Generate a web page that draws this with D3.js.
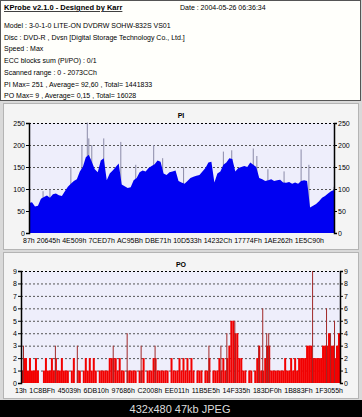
<!DOCTYPE html>
<html>
<head>
<meta charset="utf-8">
<script src="https://cdn.jsdelivr.net/npm/d3@7"></script>
<style>
  body { margin: 0; background: #000; }
  svg { display: block; }
  text { font-family: "Liberation Sans", Arial, sans-serif; }
</style>
</head>
<body>
<div id="chart"></div>
<script>
// header texts
const infoTitle = "KProbe v2.1.0 - Designed by Karr";
const infoDate = "Date : 2004-05-26 06:36:34";
const infoLines = [
  "Model : 3-0-1-0 LITE-ON DVDRW SOHW-832S  VS01",
  "Disc : DVD-R , Dvsn [Digital Storage Technology Co., Ltd.]",
  "Speed : Max",
  "ECC blocks sum (PI/PO) : 0/1",
  "Scanned range : 0 - 2073CCh",
  "PI Max= 251 , Average= 92,60 , Total= 1441833",
  "PO Max= 9 , Average= 0,15 , Total= 16028"
];
const footer = "432x480 47kb JPEG";

// PI chart
const piTicks = [0, 50, 100, 150, 200, 250];
const piLabels = ["87h", "20645h", "4E509h", "7CED7h", "AC95Bh", "DBE71h", "10D533h", "14232Ch", "17774Fh", "1AE262h", "1E5C90h"];
const piValues = [
  68, 70, 60, 62, 78, 82, 85, 80, 88, 90,
  86, 84, 95, 105, 112, 118, 122, 140, 150, 172,
  178, 162, 145, 138, 165, 170, 120, 135, 142, 150,
  158, 110, 106, 102, 104, 120, 125, 138, 142, 140,
  148, 152, 156, 165, 162, 135, 132, 138, 140, 142,
  118, 115, 112, 118, 125, 128, 130, 132, 140, 148,
  160, 162, 115, 135, 140, 155, 160, 170, 168, 140,
  148, 150, 152, 150, 160, 155, 150, 125, 122, 118,
  120, 122, 118, 120, 121, 115, 114, 116, 112, 115,
  112, 118, 120, 118, 58, 62, 66, 72, 80, 84,
  90, 95, 98
];
// [sample, value]
const piPeaks = [
  [4.7, 95], [7, 100], [14, 150], [17.7, 200], [19.5, 251], [20, 215], [21, 200],
  [25, 215], [30.7, 207], [35.7, 155], [41.7, 200], [44.7, 170], [51.7, 150],
  [65, 185], [67.8, 188], [75, 192], [76.2, 175], [79.9, 145], [85.3, 140],
  [91, 190], [93.6, 155], [102, 105]
];

// PO chart
const poTicks = [0, 1, 2, 3, 4, 5, 6, 7, 8, 9];
const poLabels = ["13h", "1C8BFh", "45039h", "6DB10h", "97686h", "C2008h", "EE011h", "11B5E5h", "14F335h", "183DF0h", "1B883Fh", "1F3055h"];
const poValues = [
  1, 2, 2, 1, 2, 1, 1, 2, 1, 0,
  0, 1, 2, 1, 1, 2, 1, 2, 1, 1,
  2, 1, 1, 1, 0, 1, 2, 0, 1, 1,
  0, 1, 2, 1, 2, 1, 2, 1, 0, 1,
  1, 1, 1, 1, 2, 2, 2, 2, 1, 2,
  1, 1, 0, 1, 1, 1, 1, 1, 0, 1,
  1, 2, 0, 1, 1, 1, 2, 2, 1, 1,
  1, 1, 1, 1, 0, 2, 1, 1, 1, 2,
  1, 2, 1, 2, 1, 2, 1, 0, 1, 1,
  1, 0, 1, 1, 2, 0, 1, 1, 1, 2,
  1, 2, 1, 2, 3, 5, 5, 4, 4, 2,
  2, 1, 1, 0, 1, 1, 0, 1, 2, 3,
  1, 1, 2, 3, 3, 1, 1, 1, 1, 1,
  1, 1, 2, 1, 1, 2, 1, 2, 1, 2,
  2, 2, 2, 3, 3, 3, 2, 2, 2, 2,
  2, 3, 3, 3, 4, 3, 3, 2, 3, 4
];
const poPeaks = [
  [1, 3], [17, 3], [28, 3], [46, 3], [53, 4], [60, 3], [67, 3], [94, 3],
  [100, 3], [103, 4], [107, 5], [119, 3], [121, 6], [123, 4], [124, 4],
  [146, 9], [153, 6], [155, 4], [157, 5]
];

const width = 362, height = 417;

const svg = d3.select("#chart").append("svg")
  .attr("width", width)
  .attr("height", height);

svg.append("rect").attr("width", width).attr("height", height).attr("fill", "#d9d9d9");

// info panel
svg.append("rect")
  .attr("x", 0.5).attr("y", 0.5).attr("width", 360).attr("height", 100)
  .attr("fill", "#fffffb").attr("stroke", "#555");

svg.append("text")
  .attr("x", 4).attr("y", 10)
  .attr("font-size", 7.5).attr("font-weight", "bold")
  .attr("text-decoration", "underline")
  .text(infoTitle);
svg.append("text")
  .attr("x", 180).attr("y", 10)
  .attr("font-size", 7)
  .text(infoDate);

svg.append("g").selectAll("text")
  .data(infoLines)
  .join("text")
  .attr("x", 4)
  .attr("y", (d, i) => 28 + i * 11.7)
  .attr("font-size", 7)
  .text(d => d);

// footer
svg.append("rect").attr("x", 0).attr("y", 400).attr("width", width).attr("height", 17).attr("fill", "#000");
svg.append("text")
  .attr("x", 180).attr("y", 413)
  .attr("text-anchor", "middle")
  .attr("font-size", 11)
  .attr("fill", "#ddd")
  .text(footer);

function drawChart(o) {
  const g = svg.append("g");
  g.append("rect")
    .attr("x", 3.5).attr("y", o.panelTop + 0.5).attr("width", 355).attr("height", o.panelHeight)
    .attr("fill", "#f4f4f4").attr("stroke", "#b4b4b4");

  g.append("text")
    .attr("x", 181).attr("y", o.titleY)
    .attr("text-anchor", "middle")
    .attr("font-size", 7).attr("font-weight", "bold")
    .text(o.title);

  const y = d3.scaleLinear().domain([0, o.max]).range([o.bottom, o.top]);

  g.append("rect")
    .attr("x", o.left).attr("y", o.top)
    .attr("width", o.right - o.left).attr("height", o.bottom - o.top)
    .attr("fill", "#eeeefb");

  // grid
  g.append("g")
    .selectAll("line")
    .data(o.ticks.filter(t => t > 0))
    .join("line")
    .attr("x1", o.left).attr("x2", o.right)
    .attr("y1", d => y(d) + 0.5).attr("y2", d => y(d) + 0.5)
    .attr("stroke", d => d === o.max ? "#000" : "#555")
    .attr("stroke-dasharray", "2,2");

  o.marks(g, y);

  // axes
  const left = g.append("g")
    .attr("transform", `translate(${o.left},0)`)
    .call(d3.axisLeft(y).tickValues(o.ticks).tickSize(3).tickPadding(1).tickFormat(d3.format("d")));
  const right = g.append("g")
    .attr("transform", `translate(${o.right},0)`)
    .call(d3.axisRight(y).tickValues(o.ticks).tickSize(3).tickPadding(1).tickFormat(d3.format("d")));
  [left, right].forEach(a => {
    a.select(".domain").attr("stroke", "#000").attr("stroke-width", 1.5);
    a.selectAll("text").attr("font-size", 7).attr("font-family", "Liberation Sans, Arial, sans-serif");
  });

  // x labels, spread evenly from x0 to x1
  const lab = g.append("g")
    .selectAll("text")
    .data(o.labels)
    .join("text")
    .attr("y", o.labelY)
    .attr("font-size", 7)
    .text(d => d);
  const widths = lab.nodes().map(n => n.getComputedTextLength());
  const gap = (o.labelX1 - o.labelX0 - d3.sum(widths)) / (o.labels.length - 1);
  let pos = o.labelX0;
  lab.attr("x", (d, i) => { const p = pos; pos += widths[i] + gap; return p; });
}

drawChart({
  panelTop: 103, panelHeight: 146,
  top: 123, bottom: 233, left: 29, right: 334,
  max: 250, ticks: piTicks, title: "PI", titleY: 118,
  labels: piLabels, labelY: 243, labelX0: 23, labelX1: 324,
  marks: (g, y) => {
    const x = d3.scaleLinear().domain([0, piValues.length - 1]).range([29, 334]);
    g.append("g")
      .selectAll("line")
      .data(piPeaks)
      .join("line")
      .attr("x1", d => x(d[0])).attr("x2", d => x(d[0]))
      .attr("y1", y(0)).attr("y2", d => y(d[1]))
      .attr("stroke", "#8a8aa8").attr("stroke-width", 1);
    g.append("path")
      .datum(piValues)
      .attr("fill", "#0000f2")
      .attr("d", d3.area().x((d, i) => x(i)).y0(y(0)).y1(d => y(d)));
  }
});

drawChart({
  panelTop: 252, panelHeight: 146,
  top: 271, bottom: 383, left: 21, right: 340,
  max: 9, ticks: poTicks, title: "PO", titleY: 267,
  labels: poLabels, labelY: 393, labelX0: 15, labelX1: 343,
  marks: (g, y) => {
    const x = d3.scaleLinear().domain([0, poValues.length]).range([21, 340]);
    g.append("g")
      .selectAll("rect")
      .data(poValues)
      .join("rect")
      .attr("x", (d, i) => x(i))
      .attr("width", x(1) - x(0))
      .attr("y", d => y(d))
      .attr("height", d => y(0) - y(d))
      .attr("fill", "#f20000");
    g.append("g")
      .selectAll("line")
      .data(poPeaks)
      .join("line")
      .attr("x1", d => x(d[0]) + 0.5).attr("x2", d => x(d[0]) + 0.5)
      .attr("y1", y(0)).attr("y2", d => y(d[1]))
      .attr("stroke", "#a02828").attr("stroke-width", 1);
  }
});
</script>
</body>
</html>
